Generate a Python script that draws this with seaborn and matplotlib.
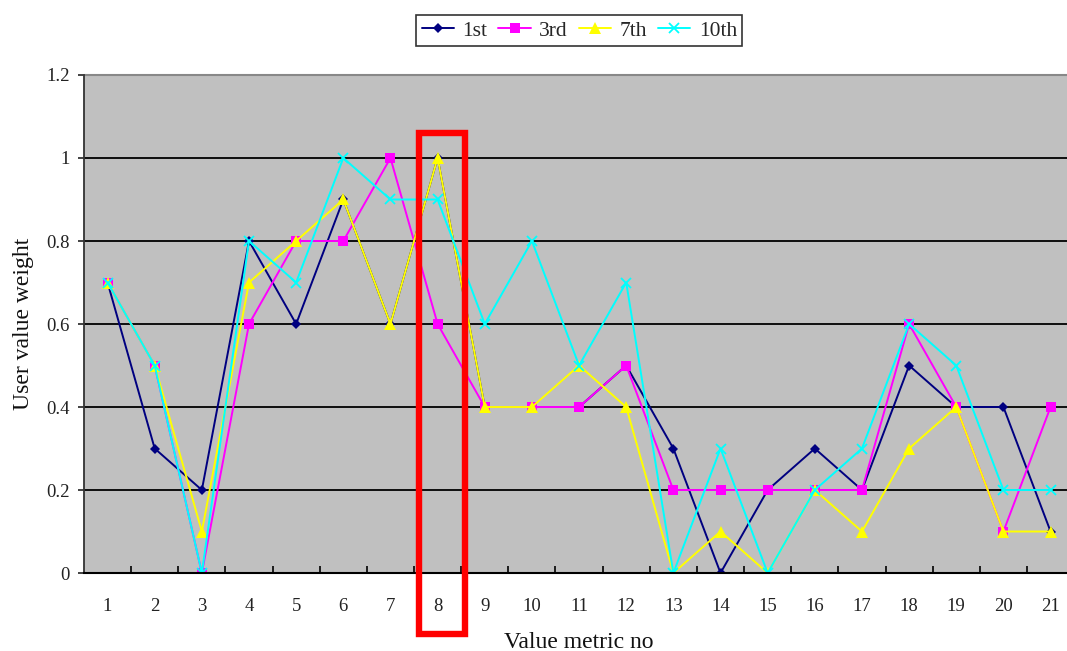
import matplotlib
matplotlib.use("Agg")
import matplotlib.pyplot as plt
import seaborn as sns
import pandas as pd
from matplotlib.patches import Rectangle
from matplotlib.ticker import FixedLocator

metrics = list(range(1, 22))
series_names = ["1st", "3rd", "7th", "10th"]
first = [0.7, 0.3, 0.2, 0.8, 0.6, 0.9, 0.6, 1.0, 0.4, 0.4, 0.4, 0.5, 0.3, 0.0, 0.2, 0.3, 0.2, 0.5, 0.4, 0.4, 0.1]
third = [0.7, 0.5, 0.0, 0.6, 0.8, 0.8, 1.0, 0.6, 0.4, 0.4, 0.4, 0.5, 0.2, 0.2, 0.2, 0.2, 0.2, 0.6, 0.4, 0.1, 0.4]
seventh = [0.7, 0.5, 0.1, 0.7, 0.8, 0.9, 0.6, 1.0, 0.4, 0.4, 0.5, 0.4, 0.0, 0.1, 0.0, 0.2, 0.1, 0.3, 0.4, 0.1, 0.1]
tenth = [0.7, 0.5, 0.0, 0.8, 0.7, 1.0, 0.9, 0.9, 0.6, 0.8, 0.5, 0.7, 0.0, 0.3, 0.0, 0.2, 0.3, 0.6, 0.5, 0.2, 0.2]
y_ticks = [0, 0.2, 0.4, 0.6, 0.8, 1.0, 1.2]
y_tick_labels = ["0", "0.2", "0.4", "0.6", "0.8", "1", "1.2"]
highlight_metric = 8

sns.set_theme(style="white")
plt.rcParams["font.family"] = ["Liberation Serif", "DejaVu Serif"]

df = pd.DataFrame({"metric": metrics, "1st": first, "3rd": third, "7th": seventh, "10th": tenth})

fig = plt.figure(figsize=(10.67, 6.51), dpi=100)
ax = fig.add_axes([0.0787, 0.1198, 0.928, 0.765])
ax.set_facecolor("#C0C0C0")

styles = {
    "1st": dict(color="#000080", marker="D", markersize=5.5, markeredgewidth=0),
    "3rd": dict(color="#FF00FF", marker="s", markersize=7, markeredgewidth=0),
    "7th": dict(color="#FFFF00", marker="^", markersize=8, markeredgewidth=0),
    "10th": dict(color="#00FFFF", marker="x", markersize=7, markeredgewidth=1.3),
}

for name in series_names:
    st = styles[name]
    sns.lineplot(data=df, x="metric", y=name, ax=ax, color=st["color"], marker=st["marker"],
                 markersize=st["markersize"], markeredgewidth=st["markeredgewidth"],
                 markeredgecolor=st["color"], linewidth=1.4, label=name, legend=False)

ax.set_xlim(0.5, 21.5)
ax.set_ylim(0, 1.2)

# horizontal gridlines
for yv in y_ticks[1:-1]:
    ax.axhline(yv, color="black", linewidth=1.3, zorder=0.5)

ax.set_yticks(y_ticks)
ax.set_yticklabels(y_tick_labels)
ax.set_xticks(metrics)
ax.set_xticklabels([str(m) for m in metrics])
ax.xaxis.set_minor_locator(FixedLocator([m + 0.5 for m in metrics[:-1]]))
ax.tick_params(axis="x", which="major", length=0, pad=18, labelsize=13.5, colors="#222222")
ax.tick_params(axis="x", which="minor", length=5, width=1.2, direction="in", color="black", bottom=True)
ax.tick_params(axis="y", which="major", length=4, width=1.2, direction="out", left=True, pad=6,
               labelsize=13.5, colors="#222222")

for side in ["top", "right"]:
    ax.spines[side].set_visible(False)
ax.spines["left"].set_color("#333333")
ax.spines["left"].set_linewidth(1.3)
ax.spines["bottom"].set_color("black")
ax.spines["bottom"].set_linewidth(1.5)
ax.axhline(1.2, color="#888888", linewidth=1.5, clip_on=False)

ax.set_xlabel("Value metric no", fontsize=17, color="#111111", labelpad=12)
ax.set_ylabel("User value weight", fontsize=17, color="#111111", labelpad=9)

# highlighted metric column
rect = Rectangle((highlight_metric - 0.39, -0.147), 0.97, 1.207, fill=False,
                 edgecolor="#FF0000", linewidth=4.6, clip_on=False, zorder=5)
ax.add_patch(rect)

handles, labels = ax.get_legend_handles_labels()
leg = fig.legend(handles, labels, loc="center", bbox_to_anchor=(0.543, 0.953), ncol=4,
                 frameon=True, fontsize=15.5, handlelength=1.5, handletextpad=0.4,
                 columnspacing=0.5, borderpad=0.25, borderaxespad=0, fancybox=False)
leg.get_frame().set_edgecolor("black")
leg.get_frame().set_linewidth(1.2)

fig.savefig("out.png", dpi=100, facecolor="white")
